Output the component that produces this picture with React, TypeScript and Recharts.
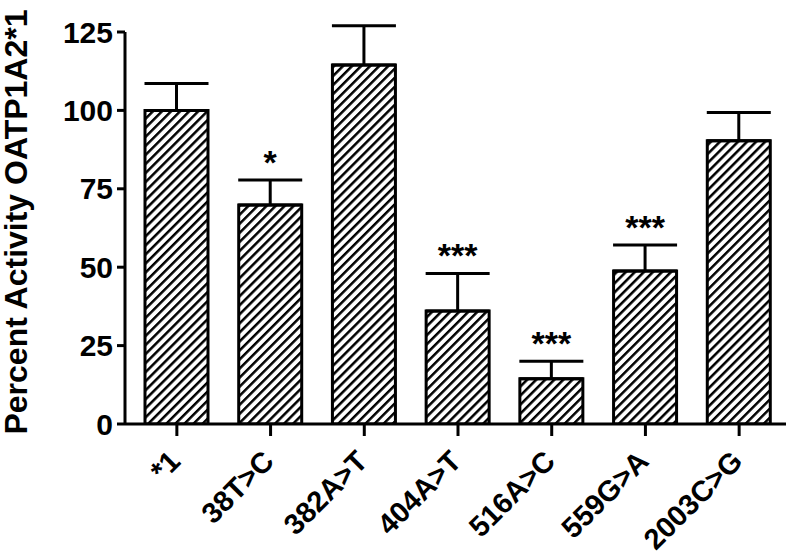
import { BarChart, Bar, XAxis, YAxis, ErrorBar, LabelList } from 'recharts'

const variants = ['*1', '38T>C', '382A>T', '404A>T', '516A>C', '559G>A', '2003C>G']
const activity = [100, 69.8, 114.5, 36, 14.4, 48.8, 90.3]
const sem = [8.6, 8, 12.5, 12, 5.6, 8.3, 9]
const stars = ['', '*', '', '***', '***', '***', '']
const yTicks = [0, 25, 50, 75, 100, 125]

const data = variants.map((name, i) => ({
  name,
  value: activity[i],
  err: [0, sem[i]],
}))

const FONT = '"Liberation Sans", Arial, sans-serif'

function XTick(props: any) {
  const { x, y, payload } = props
  return (
    <text
      transform={`translate(${x + 5},${y + 25}) rotate(-45)`}
      textAnchor="end"
      fontFamily={FONT}
      fontWeight="bold"
      fontSize={29}
      fill="#000"
    >
      {payload.value}
    </text>
  )
}

function StarLabel(props: any) {
  const { x, y, width, height, index } = props
  const s = stars[index]
  if (!s) return null
  const pxPerUnit = height / activity[index]
  const errTop = y - sem[index] * pxPerUnit
  return (
    <text
      x={x + width / 2}
      y={errTop - 6}
      textAnchor="middle"
      fontFamily={FONT}
      fontWeight="bold"
      fontSize={34}
      fill="#000"
    >
      {s}
    </text>
  )
}

export default function App() {
  return (
    <div style={{ position: 'absolute', left: 0, top: 0, background: '#fff' }}>
      <BarChart
        width={786}
        height={555}
        data={data}
        margin={{ top: 32, right: 0, left: 0, bottom: 0 }}
        barSize={63}
      >
        <defs>
          <pattern
            id="hatch"
            patternUnits="userSpaceOnUse"
            width={6.4}
            height={10}
            patternTransform="rotate(45)"
          >
            <rect x={0} y={0} width={6.4} height={10} fill="#fff" />
            <rect x={0} y={0} width={2.5} height={10} fill="#000" />
          </pattern>
        </defs>
        <XAxis
          dataKey="name"
          padding={{ left: 5, right: 0 }}
          tickSize={12}
          axisLine={{ stroke: '#000', strokeWidth: 3 }}
          tickLine={{ stroke: '#000', strokeWidth: 3 }}
          tick={<XTick />}
          interval={0}
          height={131}
        />
        <YAxis
          width={125}
          domain={[0, 125]}
          ticks={yTicks}
          allowDataOverflow
          tickSize={8}
          tickMargin={4}
          axisLine={{ stroke: '#000', strokeWidth: 3 }}
          tickLine={{ stroke: '#000', strokeWidth: 3 }}
          tick={{ fontFamily: FONT, fontWeight: 'bold', fontSize: 30, fill: '#000' }}
          label={{
            value: 'Percent Activity OATP1A2*1',
            angle: -90,
            position: 'insideLeft',
            offset: 0,
            dx: 16,
            dy: -6,
            style: { fontFamily: FONT, fontWeight: 'bold', fontSize: 32, fill: '#000', textAnchor: 'middle' },
          }}
        />
        <Bar dataKey="value" fill="url(#hatch)" stroke="#000" strokeWidth={3} isAnimationActive={false}>
          <ErrorBar dataKey="err" direction="y" width={32} stroke="#000" strokeWidth={3} isAnimationActive={false} />
          <LabelList dataKey="value" content={<StarLabel />} />
        </Bar>
      </BarChart>
    </div>
  )
}
